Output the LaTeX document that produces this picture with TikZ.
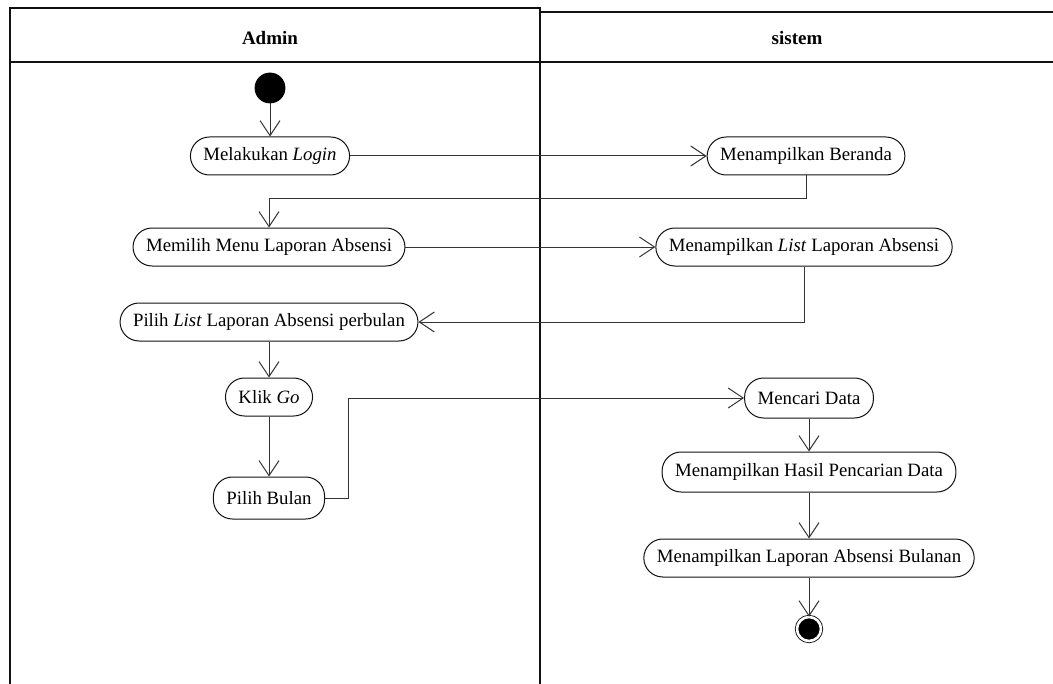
\documentclass[tikz,border=0pt]{standalone}
\usepackage{fontspec}
\setmainfont{Liberation Serif}
\usepackage{tikz}
\usetikzlibrary{arrows.meta,positioning,calc}
\definecolor{lanedark}{HTML}{111111}
\definecolor{flowgray}{HTML}{333333}
\tikzset{
  laneline/.style={draw=lanedark, line width=0.8pt},
  lanehead/.style={font=\fontsize{9.5}{11.4}\selectfont\bfseries, inner sep=0pt},
  actbox/.style={
    draw=lanedark, fill=white, rounded corners=9.5pt,
    minimum height=19pt, inner xsep=6.5pt, inner ysep=2pt,
    align=center, font=\fontsize{9.4}{11.3}\selectfont, line width=0.5pt
  },
  startdot/.style={circle, fill=black, draw=black, minimum size=15pt, inner sep=0pt},
  enddot/.style={circle, fill=black, draw=black, minimum size=12pt, inner sep=0pt,
    double=white, double distance=1.3pt},
  flowarr/.style={-{Straight Barb[length=7.5pt,width=10pt]}, draw=flowgray, line width=0.5pt}
}
\begin{document}
\begin{tikzpicture}[x=0.5pt,y=-0.5pt]
  \useasboundingbox (0,0) rectangle (1053,684);

  %% ---- Swimlanes ----
  \draw[laneline] (10,684) -- (10,8) -- (540,8) -- (540,684);
  \draw[laneline] (540,12) -- (1053,12);
  \draw[laneline] (10,62) -- (1053,62);
  \node[lanehead] (h_admin) at (270,38) {Admin};
  \node[lanehead] (h_sistem) at (797,38) {sistem};

  %% ---- Admin ----
  \node[startdot] (a_start) at (270,88) {};
  \node[actbox] (a_login) at (270,156) {Melakukan \textit{Login}};
  \node[actbox] (a_menu) at (269,247) {Memilih Menu Laporan Absensi};
  \node[actbox] (a_pilih) at (269,322) {Pilih \textit{List} Laporan Absensi perbulan};
  \node[actbox] (a_klik) at (269,397) {Klik \textit{Go}};
  \node[actbox, minimum height=21pt] (a_bulan) at (269,498) {Pilih Bulan};

  %% ---- Sistem ----
  \node[actbox] (s_beranda) at (806,156) {Menampilkan Beranda};
  \node[actbox] (s_list) at (804,247) {Menampilkan \textit{List} Laporan Absensi};
  \node[actbox, minimum height=20pt] (s_cari) at (809,398) {Mencari Data};
  \node[actbox, minimum height=20pt] (s_hasil) at (809,472) {Menampilkan Hasil Pencarian Data};
  \node[actbox] (s_lap) at (809,558) {Menampilkan Laporan Absensi Bulanan};
  \node[enddot] (s_end) at (809,629) {};

  %% Flows
  \draw[flowarr] (a_start) -- (a_login);
  \draw[flowarr] (a_login) -- (s_beranda);
  \draw[flowarr] (s_beranda.south) -- ++(0,23) -| (a_menu.north);
  \draw[flowarr] (a_menu) -- (s_list);
  \draw[flowarr] (s_list.south) |- (a_pilih.east);
  \draw[flowarr] (a_pilih) -- (a_klik);
  \draw[flowarr] (a_klik) -- (a_bulan);
  \draw[flowarr] (a_bulan.east) -- ++(23,0) |- (s_cari.west);
  \draw[flowarr] (s_cari) -- (s_hasil);
  \draw[flowarr] (s_hasil) -- (s_lap);
  \draw[flowarr] (s_lap) -- (s_end);

\end{tikzpicture}
\end{document}
